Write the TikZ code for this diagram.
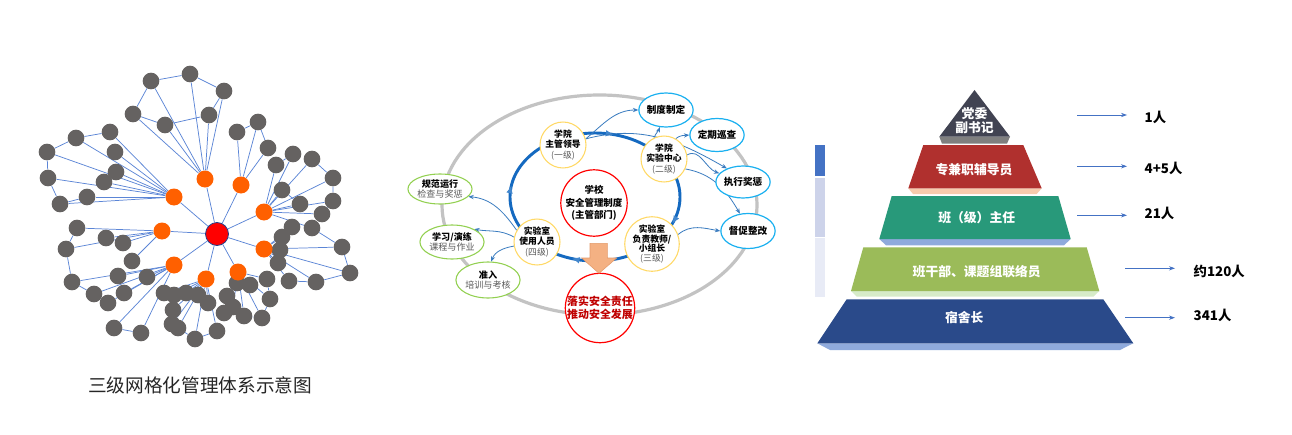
\documentclass[tikz,border=0pt]{standalone}
\usepackage{fontspec}
\setmainfont{Noto Sans CJK SC}
\usetikzlibrary{shapes.geometric,arrows.meta,decorations.markings}
\pgfdeclarelayer{back}\pgfdeclarelayer{bg}\pgfsetlayers{back,bg,main}
\definecolor{ngray}{HTML}{656261}
\definecolor{norange}{HTML}{FF6000}
\definecolor{nred}{HTML}{FF0000}
\definecolor{nredb}{HTML}{22408A}
\definecolor{lnblue}{HTML}{5B85D6}
\definecolor{loopblue}{HTML}{1469C0}
\definecolor{thinblue}{HTML}{3A7CC0}
\definecolor{ringgray}{HTML}{C3C3C3}
\definecolor{ylw}{HTML}{FFD966}
\definecolor{grn}{HTML}{92D050}
\definecolor{cyn}{HTML}{1AB0F0}
\definecolor{dred}{HTML}{C00000}
\definecolor{txtgray}{HTML}{595959}
\definecolor{arrfill}{HTML}{F4B183}
\definecolor{arrdraw}{HTML}{E39A6A}
\definecolor{pA}{HTML}{414352}\definecolor{pAs}{HTML}{7F7F7F}
\definecolor{pB}{HTML}{B0302E}\definecolor{pBs}{HTML}{F8CBAD}
\definecolor{pC}{HTML}{28997A}\definecolor{pCs}{HTML}{8FAADC}
\definecolor{pD}{HTML}{9BBB59}\definecolor{pDs}{HTML}{D6EBC8}
\definecolor{pE}{HTML}{2A4A8A}\definecolor{pEs}{HTML}{8FAADC}
\definecolor{barA}{HTML}{4472C4}\definecolor{barB}{HTML}{CDD3EA}\definecolor{barC}{HTML}{E8EBF6}
\definecolor{captxt}{HTML}{262626}
\tikzset{
  edge/.style={draw=lnblue, line width=0.55pt},
  gn/.style={circle, fill=ngray, minimum size=12.5pt, inner sep=0},
  on/.style={circle, fill=norange, minimum size=12.75pt, inner sep=0},
  cn/.style={circle, fill=nred, draw=nredb, line width=0.6pt, minimum size=17.25pt, inner sep=0},
  lvl/.style={circle, draw=ylw, line width=0.8pt, fill=white, minimum size=33pt, inner sep=0, align=center, font=\fontsize{6.6}{7.6}\selectfont\bfseries},
  gel/.style={ellipse, draw=grn, line width=0.8pt, fill=white, inner sep=0, align=center, font=\fontsize{6.8}{8}\selectfont\bfseries},
  bel/.style={ellipse, draw=cyn, line width=0.9pt, fill=white, inner sep=0, align=center, font=\fontsize{7.2}{8.4}\selectfont\bfseries},
  rc/.style={circle, draw=nred, line width=0.9pt, fill=white, inner sep=0, align=center},
  thin/.style={draw=thinblue, line width=0.6pt, -{Stealth[length=4pt,width=3.2pt]}},
  ptext/.style={text=white, font=\fontsize{9.6}{12}\selectfont\bfseries, align=center},
  rtext/.style={anchor=west, font=\fontsize{10}{12}\selectfont\bfseries},
  rarrow/.style={draw=barA, line width=0.6pt, -{Stealth[length=4.5pt,width=3.2pt]}},
}
\newcommand{\sm}[1]{{\mdseries\color{txtgray}#1}}
\begin{document}
\begin{tikzpicture}[x=0.75pt,y=-0.75pt]
\useasboundingbox (0,0) rectangle (1292,435);
\begin{pgfonlayer}{back}
\fill[white] (0,0) rectangle (1292,435);
\end{pgfonlayer}

%%%%%%%%%%%% NETWORK %%%%%%%%%%%%
\node[gn] (t1) at (151,81) {};
\node[gn] (t2) at (190,74) {};
\node[gn] (t3) at (224,91) {};
\node[gn] (t4) at (133,114) {};
\node[gn] (t5) at (165,125) {};
\node[gn] (t6) at (209,115) {};
\node[gn] (u1) at (237,132) {};
\node[gn] (u2) at (258,122) {};
\node[gn] (u3) at (268,148) {};
\node[gn] (l1) at (76,138) {};
\node[gn] (l2) at (110,132) {};
\node[gn] (l3) at (47,152) {};
\node[gn] (l4) at (115,152) {};
\node[gn] (l5) at (116,172) {};
\node[gn] (l6) at (104,182) {};
\node[gn] (l7) at (48,178) {};
\node[gn] (l8) at (87,197) {};
\node[gn] (l9) at (60,204) {};
\node[gn] (r1) at (276,165) {};
\node[gn] (r2) at (293,154) {};
\node[gn] (r3) at (312,159) {};
\node[gn] (r4) at (333,178) {};
\node[gn] (r5) at (282,190) {};
\node[gn] (r6) at (300,204) {};
\node[gn] (r7) at (333,201) {};
\node[gn] (r8) at (322,214) {};
\node[gn] (r9) at (312,228) {};
\node[gn] (s1) at (292,227) {};
\node[gn] (s2) at (282,237) {};
\node[gn] (s3) at (280,250) {};
\node[gn] (s4) at (278,263) {};
\node[gn] (s5) at (342,247) {};
\node[gn] (s6) at (350,273) {};
\node[gn] (s7) at (316,282) {};
\node[gn] (s8) at (289,281) {};
\node[gn] (b1) at (267,279) {};
\node[gn] (b2) at (250,285) {};
\node[gn] (b3) at (237,283) {};
\node[gn] (b4) at (270,299) {};
\node[gn] (b5) at (227,296) {};
\node[gn] (b6) at (233,307) {};
\node[gn] (b7) at (224,313) {};
\node[gn] (b8) at (244,316) {};
\node[gn] (b9) at (262,318) {};
\node[gn] (c1) at (164,293) {};
\node[gn] (c2) at (174,295) {};
\node[gn] (c3) at (186,293) {};
\node[gn] (c4) at (198,295) {};
\node[gn] (c5) at (208,303) {};
\node[gn] (c6) at (173,310) {};
\node[gn] (c7) at (172,324) {};
\node[gn] (c8) at (178,328) {};
\node[gn] (c9) at (195,339) {};
\node[gn] (c10) at (217,331) {};
\node[gn] (d1) at (147,277) {};
\node[gn] (d2) at (118,276) {};
\node[gn] (d3) at (124,293) {};
\node[gn] (d4) at (108,303) {};
\node[gn] (d5) at (94,294) {};
\node[gn] (d6) at (72,282) {};
\node[gn] (d7) at (114,328) {};
\node[gn] (d8) at (141,333) {};
\node[gn] (e1) at (77,228) {};
\node[gn] (e2) at (106,238) {};
\node[gn] (e3) at (123,243) {};
\node[gn] (e4) at (66,249) {};
\node[gn] (e5) at (132,261) {};
\node[on] (oT) at (205,179) {};
\node[on] (oU) at (241,185) {};
\node[on] (oL) at (174,197) {};
\node[on] (oR) at (264,212) {};
\node[on] (oE) at (162,231) {};
\node[on] (oS) at (264,249) {};
\node[on] (oD) at (174,265) {};
\node[on] (oC) at (206,279) {};
\node[on] (oB) at (238,272) {};
\node[cn] (c0) at (217,234) {};

\begin{pgfonlayer}{bg}
\foreach \o in {oT,oU,oL,oR,oE,oS,oD,oC,oB} \draw[edge] (c0) -- (\o);
\foreach \g in {t1,t2,t3,t4,t5,t6} \draw[edge] (oT) -- (\g);
\foreach \g in {u1,u2,u3} \draw[edge] (oU) -- (\g);
\foreach \g in {l1,l2,l3,l4,l5,l6,l7,l8,l9} \draw[edge] (oL) -- (\g);
\foreach \g in {r1,r2,r3,r4,r5,r6,r7,r8,r9} \draw[edge] (oR) -- (\g);
\foreach \g in {s1,s2,s3,s4,s5,s6,s7,s8} \draw[edge] (oS) -- (\g);
\foreach \g in {b1,b2,b3,b4,b5,b6,b7,b8,b9} \draw[edge] (oB) -- (\g);
\foreach \g in {c1,c2,c3,c4,c5,c6,c7,c8,c9,c10} \draw[edge] (oC) -- (\g);
\foreach \g in {d1,d2,d3,d4,d5,d6,d7,d8} \draw[edge] (oD) -- (\g);
\foreach \g in {e1,e2,e3,e4,e5} \draw[edge] (oE) -- (\g);
\draw[edge] (t1) -- (t2) -- (t3) -- (t6) -- (t5) -- (t4) -- (t1);
\draw[edge] (u1) -- (u2) -- (u3);
\draw[edge] (l2) -- (l1) -- (l3) -- (l7) -- (l9) -- (l8);
\draw[edge] (r1) -- (r2) (r3) -- (r4) -- (r7) -- (r8) (r5) -- (r6);
\draw[edge] (r9) -- (s5) -- (s6) -- (s7) -- (s8);
\draw[edge] (b1) -- (b4) -- (b9) -- (b8);
\draw[edge] (c7) -- (c9) -- (c10);
\draw[edge] (e1) -- (e4) -- (d6) -- (d5) -- (d4) (d7) -- (d8);
\end{pgfonlayer}

\node[font=\fontsize{14}{16}\selectfont, text=captxt] (cap) at (200,385) {三级网格化管理体系示意图};

%%%%%%%%%%%% MIDDLE %%%%%%%%%%%%
\begin{pgfonlayer}{bg}
\draw[ringgray, line width=2.4pt] (599.5,205) ellipse [x radius=157.5, y radius=110];
\draw[loopblue, line width=2.2pt, postaction={decorate},
  decoration={markings,
    mark=at position 0.06 with {\arrow[loopblue!80!white]{Latex[length=6pt,width=5pt]}},
    mark=at position 0.30 with {\arrow[loopblue!80!white]{Latex[length=6pt,width=5pt]}},
    mark=at position 0.525 with {\arrow[loopblue!80!white]{Latex[length=6pt,width=5pt]}},
    mark=at position 0.79 with {\arrow[loopblue!80!white]{Latex[length=6pt,width=5pt]}}}]
  (595,197) ellipse [x radius=85, y radius=64];
\end{pgfonlayer}

\node[lvl] (lv1) at (563,145) {学院\\主管领导\\\sm{(一级)}};
\node[lvl, minimum size=34pt] (lv2) at (664,159) {学院\\实验中心\\\sm{(二级)}};
\node[lvl, font=\fontsize{6.6}{7.3}\selectfont\bfseries] (lv3) at (652,244) {实验室\\负责教师/\\小组长\\\sm{(三级)}};
\node[lvl] (lv4) at (537,242) {实验室\\使用人员\\\sm{(四级)}};

\node[rc, minimum size=48pt, font=\fontsize{7.1}{9.2}\selectfont\bfseries] (ctr) at (594,203) {学校\\安全管理制度\\(主管部门)};
\node[rc, minimum size=49.5pt, text=dred, font=\fontsize{8.2}{9.3}\selectfont\bfseries] (bot) at (600,308) {落实安全责任\\推动安全发展};

\fill[arrfill, draw=arrdraw, line width=0.4pt] (590,243.3) -- (607.3,243.3) -- (607.3,258) -- (616.7,258) -- (599,273.3) -- (581.7,258) -- (590,258) -- cycle;

\node[gel, minimum width=34.5pt, minimum height=22.5pt] (gn1) at (440,189) {规范运行\\\sm{检查与奖惩}};
\node[gel, minimum width=34.5pt, minimum height=25.5pt] (gn2) at (452,242) {学习/演练\\\sm{课程与作业}};
\node[gel, minimum width=35.25pt, minimum height=27pt] (gn3) at (488,280) {准入\\\sm{培训与考核}};

\node[bel, minimum width=35.25pt, minimum height=25.5pt] (bl1) at (666,110) {制度制定};
\node[bel, minimum width=32.25pt, minimum height=24.75pt] (bl2) at (717,135) {定期巡查};
\node[bel, minimum width=35.25pt, minimum height=24pt] (bl3) at (743,182) {执行奖惩};
\node[bel, minimum width=33pt, minimum height=26.25pt] (bl4) at (748,231) {督促整改};

\begin{pgfonlayer}{bg}
\draw[thin] (lv1.15) to[out=40, in=180] (bl1.west);
\draw[thin] (lv1.15) to[out=15, in=150] (bl3.140);
\draw[thin] (lv2.115) to[out=70, in=-110] (bl1.250);
\draw[thin] (lv2.60) to[out=40, in=185] (bl2.west);
\draw[thin] (lv2.10) to[out=30, in=160] (bl3.160);
\draw[thin] (lv2.-25) to[out=-10, in=120] (bl4.115);
\draw[thin] (lv3.20) to[out=40, in=170] (bl4.west);
\draw[thin] (lv4.150) to[out=125, in=-5] (gn1.-15);
\draw[thin] (lv4.168) to[out=150, in=-10] (gn2.30);
\draw[thin] (lv4.190) to[out=-170, in=70] (gn3.80);
\end{pgfonlayer}

%%%%%%%%%%%% PYRAMID %%%%%%%%%%%%
\fill[barA] (815,145) rectangle (825,176);
\fill[barB] (815,178.3) rectangle (825,236.7);
\fill[barC] (815,238.3) rectangle (825,296.7);

\fill[pAs] (939.3,136.7) -- (1010,136.7) -- (1007,143.7) -- (942,143.7) -- cycle;
\fill[pA] (974.5,90) -- (1010,136.7) -- (939.3,136.7) -- cycle;
\fill[pBs] (908.3,188.3) -- (1041.7,188.3) -- (1036.7,194) -- (913,194) -- cycle;
\fill[pB] (923.3,145) -- (1023.3,145) -- (1041.7,188.3) -- (908.3,188.3) -- cycle;
\fill[pCs] (879.3,239) -- (1070.7,239) -- (1064,245.3) -- (886,245.3) -- cycle;
\fill[pC] (891.7,196) -- (1058.3,196) -- (1070.7,239) -- (879.3,239) -- cycle;
\fill[pDs] (851,291) -- (1099.3,291) -- (1093.3,296.7) -- (856.7,296.7) -- cycle;
\fill[pD] (863.3,247.3) -- (1086.7,247.3) -- (1099.3,291) -- (851,291) -- cycle;
\fill[pEs] (817.3,343.3) -- (1133.3,343.3) -- (1120,350) -- (830,350) -- cycle;
\fill[pE] (846.7,299.3) -- (1103.3,299.3) -- (1133.3,343.3) -- (817.3,343.3) -- cycle;

\node[ptext, font=\fontsize{9.6}{10.8}\selectfont\bfseries] (p1) at (974.5,120.5) {党委\\副书记};
\node[ptext] (p2) at (974,169.3) {专兼职辅导员};
\node[ptext] (p3) at (976.7,217.3) {班（级）主任};
\node[ptext] (p4) at (976.7,271.7) {班干部、课题组联络员};
\node[ptext] (p5) at (964.3,317.7) {宿舍长};

\coordinate (a1s) at (1077,115); \coordinate (a1e) at (1127,115);
\coordinate (a2s) at (1077,166.3); \coordinate (a2e) at (1127,166.3);
\coordinate (a3s) at (1077,215.3); \coordinate (a3e) at (1127,215.3);
\coordinate (a4s) at (1125,268.3); \coordinate (a4e) at (1175,268.3);
\coordinate (a5s) at (1125,317.7); \coordinate (a5e) at (1175,317.7);
\draw[rarrow] (a1s) -- (a1e);
\draw[rarrow] (a2s) -- (a2e);
\draw[rarrow] (a3s) -- (a3e);
\draw[rarrow] (a4s) -- (a4e);
\draw[rarrow] (a5s) -- (a5e);
\node[rtext] (n1) at (1140,117) {1人};
\node[rtext] (n2) at (1140,168) {4+5人};
\node[rtext] (n3) at (1140,213) {21人};
\node[rtext] (n4) at (1189,271.7) {约120人};
\node[rtext] (n5) at (1189,315) {341人};
\end{tikzpicture}
\end{document}
